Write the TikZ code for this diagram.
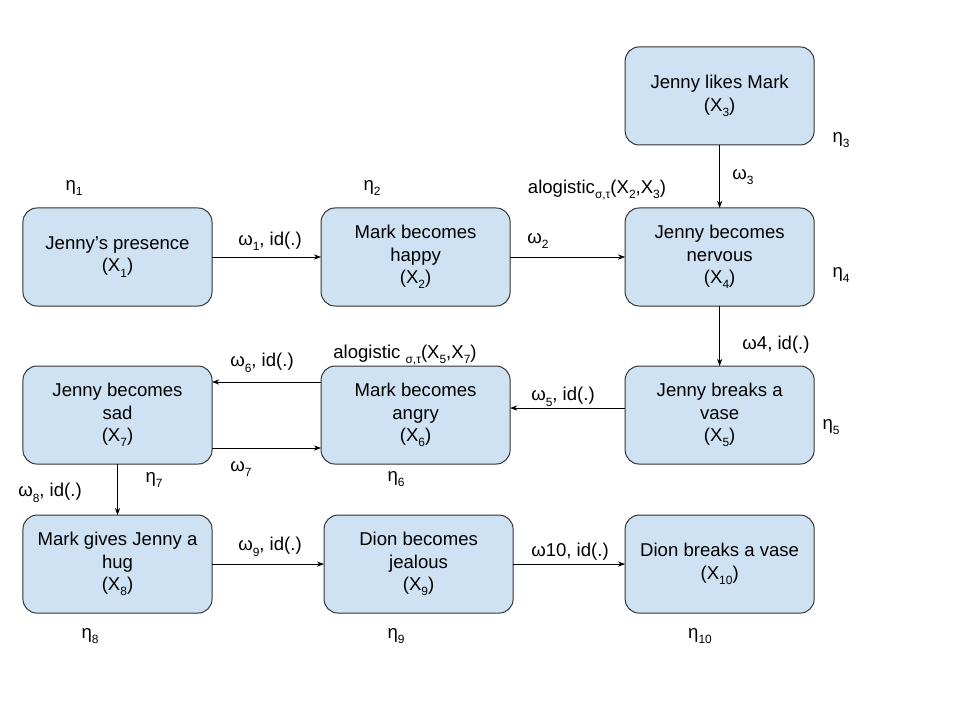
\documentclass[tikz,border=0pt]{standalone}
\usepackage{fontspec}
\setmainfont{Liberation Sans}
\usetikzlibrary{arrows.meta, positioning}
\definecolor{BoxBlue}{RGB}{207,226,243}
\definecolor{BoxLine}{RGB}{50,50,50}
\newcommand{\lowsub}[1]{\raisebox{-0.55ex}{\fontsize{8.5}{9}\selectfont #1}}

\begin{document}
\begin{tikzpicture}[
    x=0.025cm, y=-0.025cm,
    font=\fontsize{13.2}{15.8}\selectfont,
    state/.style={draw=BoxLine, line width=0.7pt, rounded corners=0.35cm,
        fill=BoxBlue, align=center, minimum width=4.725cm,
        minimum height=2.45cm, inner sep=2pt, outer sep=0pt},
    link/.style={-{Stealth[length=1.8mm, width=1.3mm]}, line width=0.6pt, black},
    lab/.style={inner sep=1pt},
]
\useasboundingbox (0,0) rectangle (960,720);

% eerste rij
\node[state] (x1) at (117.5,257) {Jenny’s presence\\(X\lowsub{1})};
\node[state, right=2.725cm of x1] (x2) {Mark becomes\\happy\\(X\lowsub{2})};
\node[state, right=2.875cm of x2] (x4) {Jenny becomes\\nervous\\(X\lowsub{4})};
\node[state, above=1.575cm of x4] (x3) {Jenny likes Mark\\(X\lowsub{3})};

% tweede rij
\node[state, below=1.5cm of x4] (x5) {Jenny breaks a\\vase\\(X\lowsub{5})};
\node[state, below=1.5cm of x2] (x6) {Mark becomes\\angry\\(X\lowsub{6})};
\node[state, below=1.5cm of x1] (x7) {Jenny becomes\\sad\\(X\lowsub{7})};

% derde rij
\node[state, below=1.275cm of x7] (x8) {Mark gives Jenny a\\hug\\(X\lowsub{8})};
\node[state, below=1.275cm of x6, xshift=0.075cm] (x9) {Dion becomes\\jealous\\(X\lowsub{9})};
\node[state, below=1.275cm of x5] (x10) {Dion breaks a vase\\(X\lowsub{10})};

% verbindingen
\draw[link] (x1) -- (x2);
\draw[link] (x2) -- (x4);
\draw[link] (x3) -- (x4);
\draw[link] (x4) -- (x5);
\draw[link] ([yshift=0.175cm]x5.west) -- ([yshift=0.175cm]x6.east);
\draw[link] ([yshift=0.825cm]x6.west) -- ([yshift=0.825cm]x7.east);
\draw[link] ([yshift=-0.825cm]x7.east) -- ([yshift=-0.825cm]x6.west);
\draw[link] (x7) -- (x8);
\draw[link] (x8) -- (x9);
\draw[link] (x9) -- (x10);

% gewichten
\node[lab] (w1) at (270,241) {ω\lowsub{1}, id(.)};
\node[lab] (w2) at (538,241) {ω\lowsub{2}};
\node[lab] (a1) at (597,190) {alogistic\lowsub{σ,τ}(X\lowsub{2},X\lowsub{3})};
\node[lab] (w3) at (743,177) {ω\lowsub{3}};
\node[lab] (w4) at (776,345) {ω4, id(.)};
\node[lab] (w5) at (563,397) {ω\lowsub{5}, id(.)};
\node[lab] (w6) at (262,363) {ω\lowsub{6}, id(.)};
\node[lab] (a2) at (405,355) {alogistic \lowsub{σ,τ}(X\lowsub{5},X\lowsub{7})};
\node[lab] (w7) at (241,469) {ω\lowsub{7}};
\node[lab] (w8) at (50,493) {ω\lowsub{8}, id(.)};
\node[lab] (w9) at (270,547) {ω\lowsub{9}, id(.)};
\node[lab] (w10) at (570,552) {ω10, id(.)};

% eta's
\node[lab] (e1) at (74,188) {η\lowsub{1}};
\node[lab] (e2) at (372,188) {η\lowsub{2}};
\node[lab] (e3) at (841,140) {η\lowsub{3}};
\node[lab] (e4) at (841,275) {η\lowsub{4}};
\node[lab] (e5) at (831,427) {η\lowsub{5}};
\node[lab] (e6) at (396,479) {η\lowsub{6}};
\node[lab] (e7) at (154,480) {η\lowsub{7}};
\node[lab] (e8) at (90,636) {η\lowsub{8}};
\node[lab] (e9) at (396,636) {η\lowsub{9}};
\node[lab] (e10) at (700,636) {η\lowsub{10}};

\end{tikzpicture}
\end{document}
